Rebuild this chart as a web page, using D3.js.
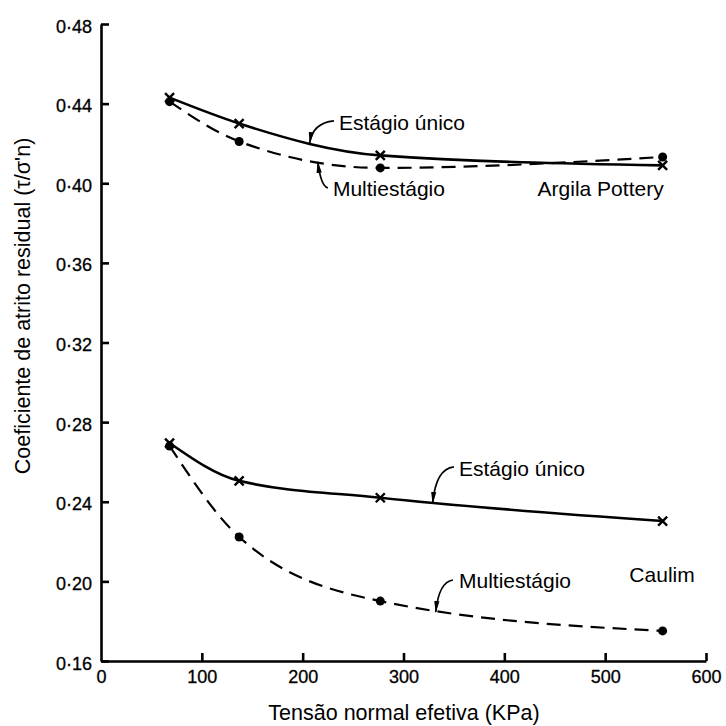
<!DOCTYPE html>
<html><head><meta charset="utf-8">
<script src="https://cdn.jsdelivr.net/npm/d3@7"></script>
<style>body{margin:0;background:#fff}svg{display:block}</style>
</head><body>
<svg id="c" width="726" height="726"></svg>
<script>
// ---- data ----
const stress = [68, 137, 277, 557];               // KPa
const potterySingle = [0.443, 0.430, 0.414, 0.409];
const potteryMulti  = [0.441, 0.421, 0.4077, 0.4132];
const caulimSingle  = [0.2695, 0.2505, 0.2420, 0.2303];
const caulimMulti   = [0.2680, 0.2223, 0.1901, 0.1751];
const xTicks = [0, 100, 200, 300, 400, 500, 600];
const yTicks = [0.16, 0.20, 0.24, 0.28, 0.32, 0.36, 0.40, 0.44, 0.48];
const xTitle = "Tensão normal efetiva (KPa)";
const yTitle = "Coeficiente de atrito residual (τ/σ'n)";

const series = [
  {vals: potterySingle, dashed: false, marker: "x"},
  {vals: potteryMulti,  dashed: true,  marker: "dot"},
  {vals: caulimSingle,  dashed: false, marker: "x"},
  {vals: caulimMulti,   dashed: true,  marker: "dot"}
];
// annotations in data coordinates
const labels = [
  {t: "Estágio único", x: 236, y: 0.4268, lead: [[231, 0.4313], [207, 0.4202]]},
  {t: "Multiestágio",  x: 230, y: 0.3936, lead: [[225, 0.3976], [215, 0.4107]]},
  {t: "Argila Pottery", x: 433, y: 0.3936},
  {t: "Estágio único", x: 355, y: 0.2529, lead: [[350, 0.2575], [329, 0.2394]]},
  {t: "Multiestágio",  x: 355, y: 0.1967, lead: [[349, 0.2007], [332, 0.1846]]},
  {t: "Caulim", x: 524, y: 0.1997}
];

// ---- layout ----
const svg = d3.select("#c");
const F = "'Liberation Sans', Arial, sans-serif";
const x = d3.scaleLinear().domain([0, 600]).range([101, 706]);
const y = d3.scaleLinear().domain([0.16, 0.48]).range([661, 24]);

svg.append("defs").append("marker")
  .attr("id", "arr").attr("markerUnits", "userSpaceOnUse")
  .attr("viewBox", "0 -4 12 8").attr("refX", 11).attr("refY", 0)
  .attr("markerWidth", 12).attr("markerHeight", 8).attr("orient", "auto")
  .append("path").attr("d", "M0,-2.6 L12,0 L0,2.6 Z").attr("fill", "#000");

// axes
const yAxis = d3.axisLeft(y).tickValues(yTicks).tickSize(-8).tickSizeOuter(0)
  .tickFormat(d => d3.format(".2f")(d).replace(".", "·"));
const gy = svg.append("g").attr("transform", `translate(${x(0)},0)`).call(yAxis);
gy.select(".domain").attr("stroke-width", 2.6);
gy.selectAll(".tick line").attr("stroke-width", 2.6);
gy.selectAll(".tick text").attr("x", -9).attr("dy", "0.45em")
  .attr("font-family", F).attr("font-size", 18).attr("fill", "#000")
  .attr("stroke", "#000").attr("stroke-width", 0.3);

const xAxis = d3.axisBottom(x).tickValues(xTicks).tickSize(-8).tickSizeOuter(0)
  .tickFormat(d3.format("d"));
const gx = svg.append("g").attr("transform", `translate(0,${y(0.16)})`).call(xAxis);
gx.select(".domain").attr("stroke-width", 2.6);
gx.selectAll(".tick line").attr("stroke-width", 2.6).filter(d => d === 0).remove();
gx.selectAll(".tick text").attr("y", 9).attr("dy", "0.71em")
  .attr("font-family", F).attr("font-size", 18).attr("fill", "#000")
  .attr("stroke", "#000").attr("stroke-width", 0.3);
svg.selectAll(".domain, .tick line").attr("stroke", "#000");

// titles
svg.append("text").attr("x", 404).attr("y", 720).attr("text-anchor", "middle")
  .attr("font-family", F).attr("font-size", 21.5).text(xTitle);
svg.append("text").attr("transform", "translate(30,306) rotate(-90)")
  .attr("text-anchor", "middle").attr("font-family", F).attr("font-size", 21.5).text(yTitle);

// curves
const line = d3.line().x((d, i) => x(stress[i])).y(d => y(d)).curve(d3.curveMonotoneX);
series.forEach(s => {
  svg.append("path").attr("d", line(s.vals)).attr("fill", "none")
    .attr("stroke", "#000").attr("stroke-width", s.dashed ? 2.2 : 2.6)
    .attr("stroke-dasharray", s.dashed ? "14,8" : null);
});
series.forEach(s => {
  s.vals.forEach((v, i) => {
    const cx = x(stress[i]), cy = y(v);
    if (s.marker === "dot") {
      svg.append("circle").attr("cx", cx).attr("cy", cy).attr("r", 4.5).attr("fill", "#000");
    } else {
      const r = 4.5;
      svg.append("path").attr("d", `M${cx-r},${cy-r}L${cx+r},${cy+r}M${cx-r},${cy+r}L${cx+r},${cy-r}`)
        .attr("stroke", "#000").attr("stroke-width", 2.4);
    }
  });
});

// labels and leaders
labels.forEach(l => {
  svg.append("text").attr("x", x(l.x)).attr("y", y(l.y))
    .attr("font-family", F).attr("font-size", 21).text(l.t);
  if (l.lead) {
    const [s, e] = l.lead;
    const sx = x(s[0]), sy = y(s[1]), ex = x(e[0]), ey = y(e[1]);
    const qx = ex + 3, qy = sy + (ey > sy ? 2 : -2);
    svg.append("path").attr("d", `M${sx},${sy}Q${qx},${qy} ${ex},${ey}`)
      .attr("fill", "none").attr("stroke", "#000").attr("stroke-width", 1.7)
      .attr("marker-end", "url(#arr)");
  }
});
</script>
</body></html>
